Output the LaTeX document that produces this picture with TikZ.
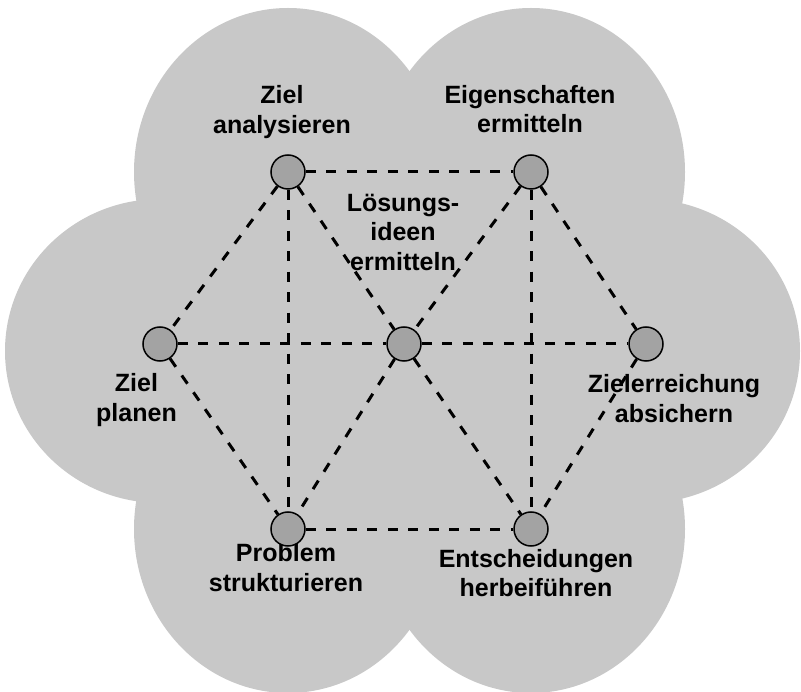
\documentclass[tikz,border=0pt]{standalone}
\usepackage{fontspec}
\setmainfont{Liberation Sans}
\definecolor{cloudgray}{RGB}{200,200,200}
\definecolor{knotgray}{RGB}{163,163,163}
\begin{document}
\begin{tikzpicture}[x=1pt,y=-1pt,
  lobe/.style={fill=cloudgray, draw=none},
  knot/.style={circle, draw=black, line width=1.5pt, fill=knotgray,
               minimum size=34pt, inner sep=0pt},
  link/.style={draw=black, line width=3pt, dash pattern=on 10pt off 10.5pt},
  lbl/.style={font=\bfseries\fontsize{25}{29.5}\selectfont, align=center,
              inner sep=0pt, anchor=base}]
  \useasboundingbox[fill=white] (0,0) rectangle (801,692);

  % cloud: six lobes around a filled core
  \fill[cloudgray] (288,172) -- (531,172) -- (645,351) -- (531,529)
                   -- (288,529) -- (160,351) -- cycle;
  \fill[lobe] (288,172) ellipse [x radius=154, y radius=164];
  \fill[lobe] (531,172) ellipse [x radius=154, y radius=164];
  \fill[lobe] (288,529) ellipse [x radius=154, y radius=164];
  \fill[lobe] (531,529) ellipse [x radius=154, y radius=164];
  \fill[lobe] (160,351) ellipse [x radius=155, y radius=152];
  \fill[lobe] (645,351) ellipse [x radius=155, y radius=152];

  % labels (positioned by the baseline of their last line)
  \node[lbl] (lza) at (282,133.5) {Ziel\\analysieren};
  \node[lbl] (lei) at (530,133) {Eigenschaften\\ermitteln};
  \node[lbl] (llo) at (403,270.5) {Lösungs-\\ideen\\ermitteln};
  \node[lbl] (lzp) at (136.5,421.5) {Ziel\\planen};
  \node[lbl] (lzr) at (674,422.5) {Zielerreichung\\absichern};
  \node[lbl] (lps) at (286,591) {Problem\\strukturieren};
  \node[lbl] (leh) at (536,596.5) {Entscheidungen\\herbeiführen};

  % activity nodes
  \coordinate (pza) at (288,172);
  \coordinate (pei) at (531,172);
  \coordinate (pzp) at (160,344);
  \coordinate (plo) at (404,344);
  \coordinate (pzr) at (646,344);
  \coordinate (pps) at (288,529);
  \coordinate (peh) at (531,529);
  \path (pza) node[knot, draw=none, fill=none] (za) {}
        (pei) node[knot, draw=none, fill=none] (ei) {}
        (pzp) node[knot, draw=none, fill=none] (zp) {}
        (plo) node[knot, draw=none, fill=none] (lo) {}
        (pzr) node[knot, draw=none, fill=none] (zr) {}
        (pps) node[knot, draw=none, fill=none] (ps) {}
        (peh) node[knot, draw=none, fill=none] (eh) {};

  % dashed connections
  \draw[link] (za) -- (ei);
  \draw[link] (za) -- (zp);
  \draw[link] (za) -- (ps);
  \draw[link] (za) -- (lo);
  \draw[link] (ei) -- (lo);
  \draw[link] (ei) -- (eh);
  \draw[link] (ei) -- (zr);
  \draw[link] (zp) -- (lo);
  \draw[link] (lo) -- (zr);
  \draw[link] (zp) -- (ps);
  \draw[link] (lo) -- (ps);
  \draw[link] (lo) -- (eh);
  \draw[link] (zr) -- (eh);
  \draw[link] (ps) -- (eh);

  % circles on top of the connections
  \foreach \n in {za,ei,zp,lo,zr,ps,eh}
    \node[knot] at (\n.center) {};
\end{tikzpicture}
\end{document}
